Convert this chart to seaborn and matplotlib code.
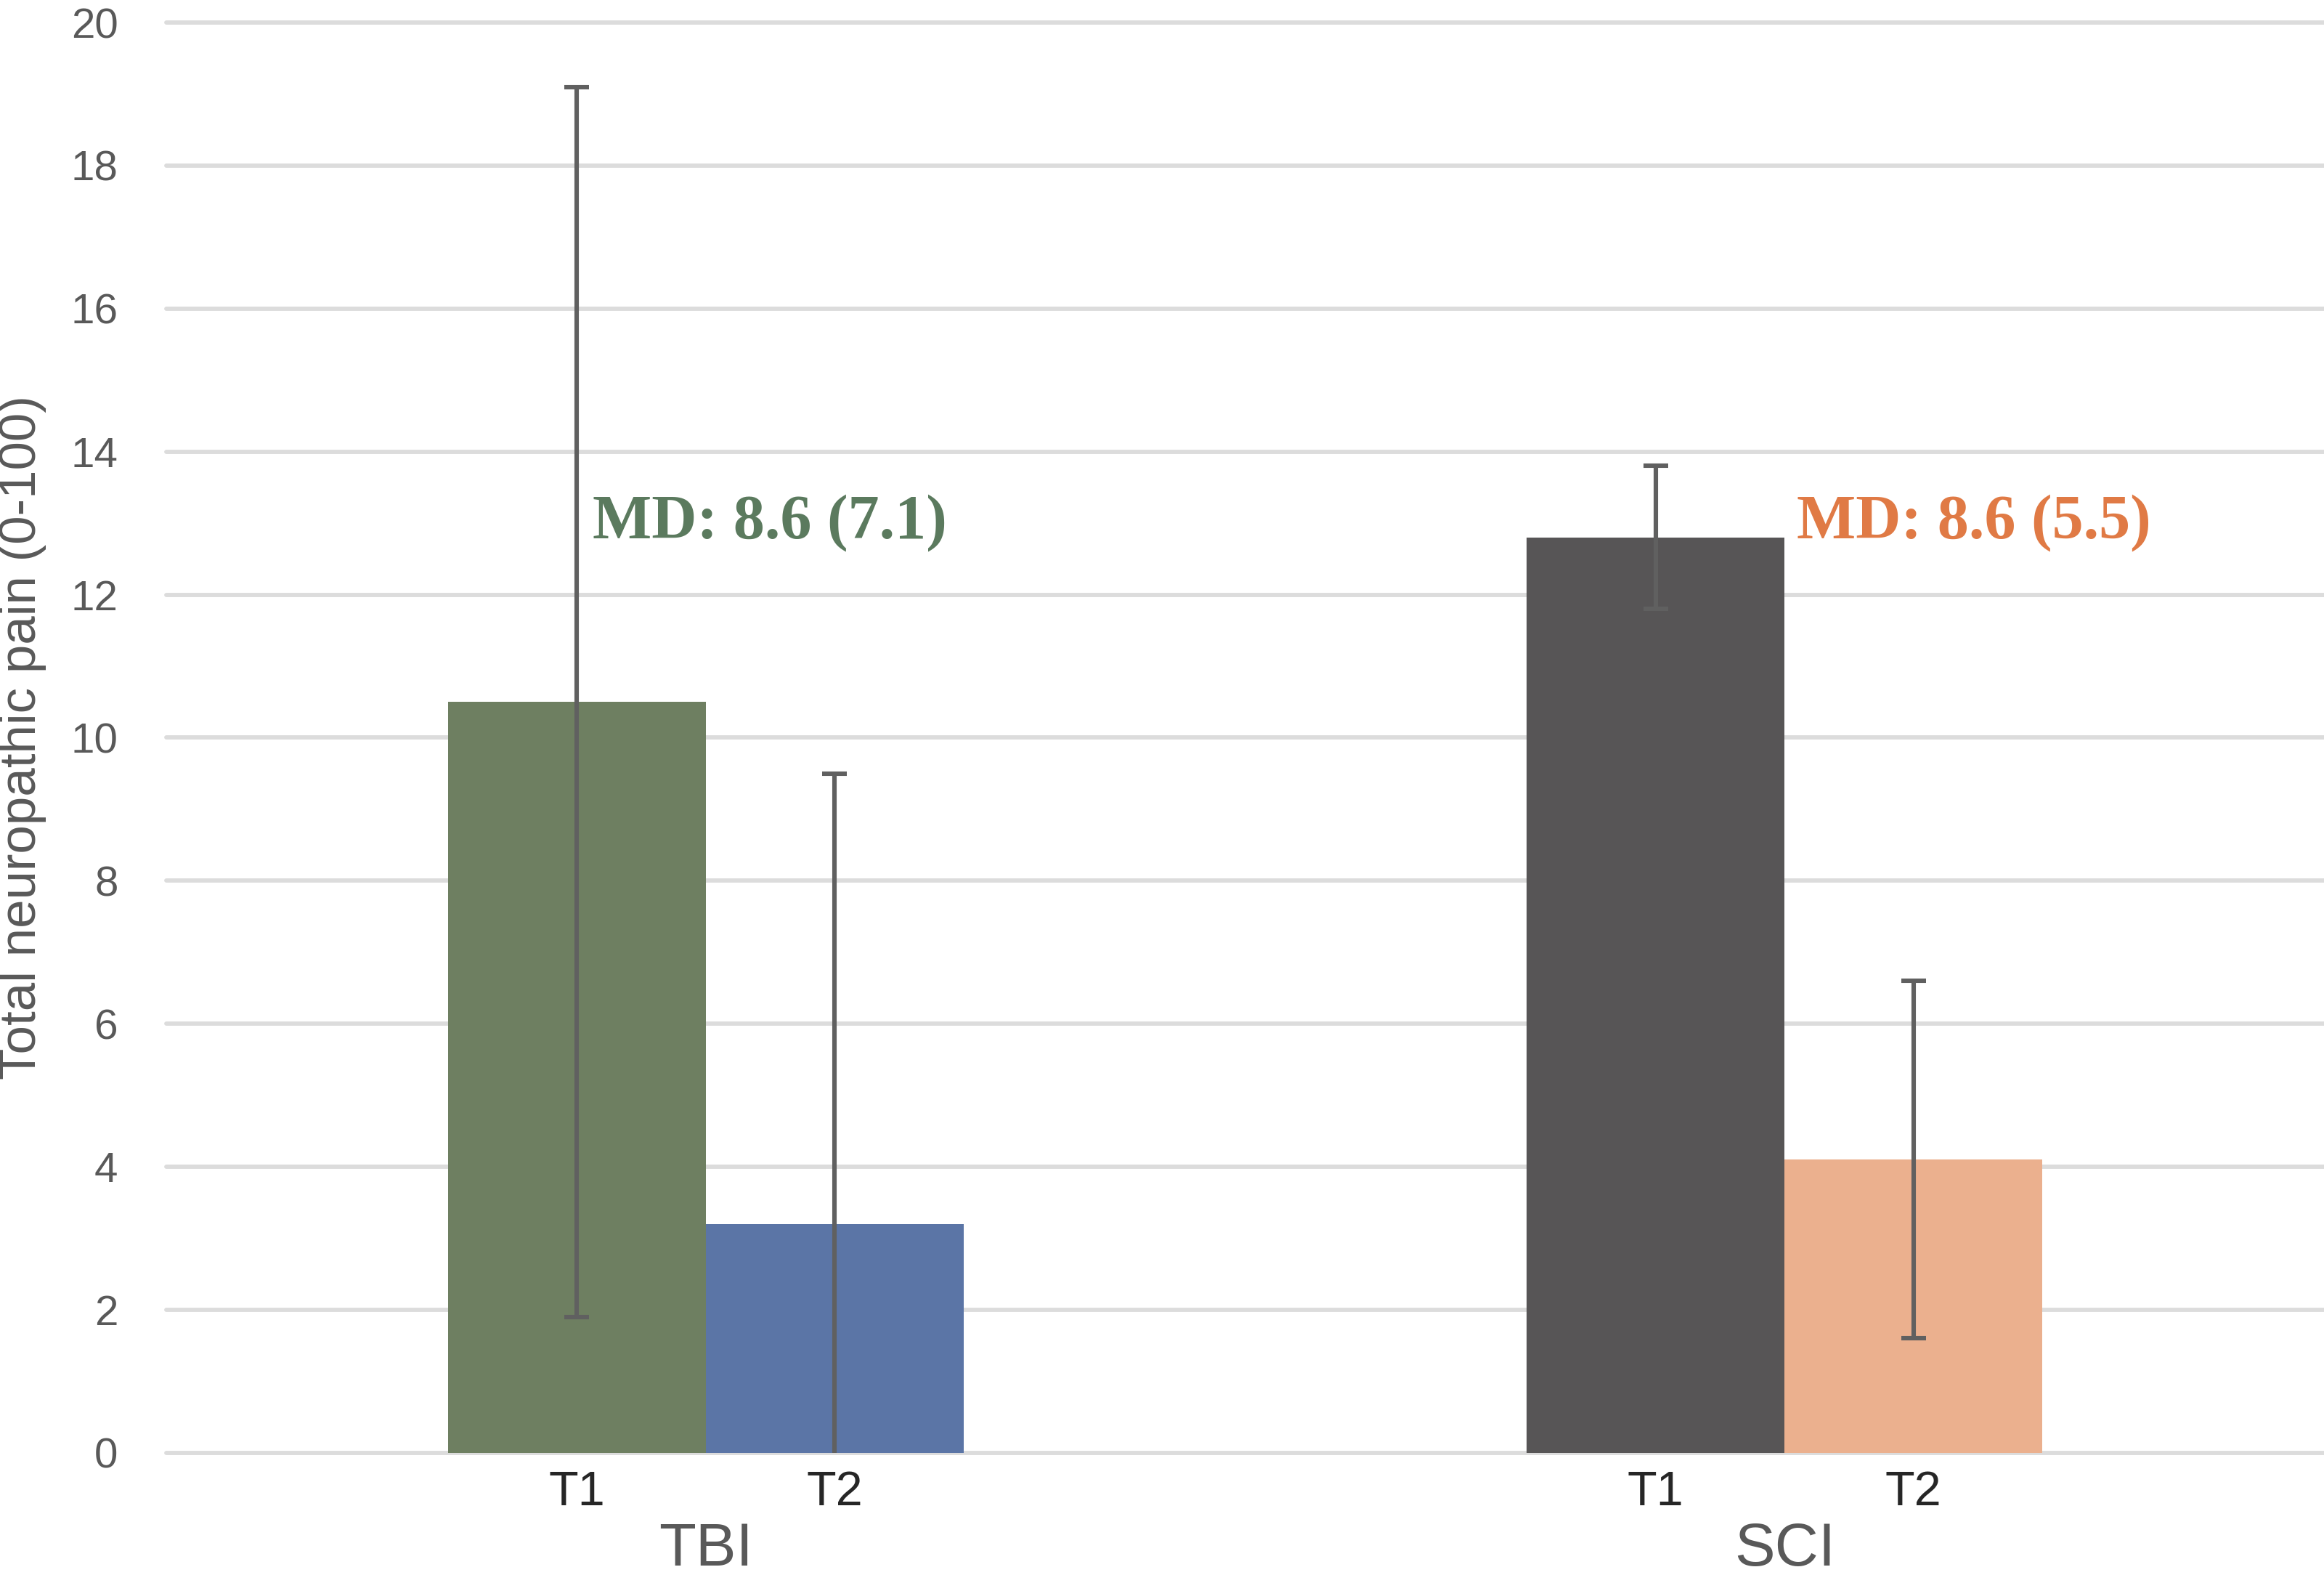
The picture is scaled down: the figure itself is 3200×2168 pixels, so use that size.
import numpy as np
import pandas as pd
import matplotlib.pyplot as plt
import matplotlib.transforms as mtransforms
import seaborn as sns


# mean total neuropathic pain at T1 / T2 for each injury group, with SD error bars
groups = ['TBI', 'TBI', 'SCI', 'SCI']
times = ['T1', 'T2', 'T1', 'T2']
means = [10.5, 3.2, 12.8, 4.1]
errors = [8.6, 6.3, 1.0, 2.5]
bar_colors = ['#6E7F61', '#5B75A6', '#575556', '#EBB08E']

# mean difference annotations
md_labels = ['MD: 8.6 (7.1)', 'MD: 8.6 (5.5)']
md_colors = ['#5B7A5E', '#E07A45']
md_x = [-0.105, 1.011]
md_y = 13.0

y_ticks = list(range(0, 21, 2))

df = pd.DataFrame({'group': groups, 'time': times, 'mean': means, 'err': errors})

sns.set_theme(style='white')
plt.rcParams['font.family'] = ['Liberation Sans', 'DejaVu Sans']

fig = plt.figure(figsize=(16, 10.84), dpi=200)
ax = fig.add_axes([0.0716, 0.0775, 0.9284, 0.9082])

sns.barplot(data=df, x='group', y='mean', hue='time',
            order=['TBI', 'SCI'], hue_order=['T1', 'T2'],
            width=0.478, gap=0, errorbar=None, legend=False,
            saturation=1, ax=ax)

# bars come out grouped by hue, sort them left to right to match the rows
bars = sorted([p for p in ax.patches if p.get_width() > 0], key=lambda p: p.get_x())
trans = mtransforms.blended_transform_factory(ax.transData, ax.transAxes)

for bar, col, err, t in zip(bars, bar_colors, df['err'], df['time']):
    bar.set_facecolor(col)
    bar.set_edgecolor('none')
    cx = bar.get_x() + bar.get_width() / 2
    ax.errorbar(cx, bar.get_height(), yerr=err, fmt='none', ecolor='#606060',
                elinewidth=2.2, capsize=6.1, capthick=2.2, zorder=3)
    ax.text(cx, -0.028, t, transform=trans, ha='center', va='center',
            fontsize=24, color='#262626')

# group labels under the time labels
for pos, lab in zip(ax.get_xticks(), [t.get_text() for t in ax.get_xticklabels()]):
    ax.text(pos, -0.0675, lab, transform=trans, ha='center', va='center',
            fontsize=30, color='#595959')

for x, lab, col in zip(md_x, md_labels, md_colors):
    ax.text(x, md_y, lab, ha='left', va='center', fontsize=31, fontweight='bold',
            color=col, family=['Liberation Serif', 'DejaVu Serif'])

ax.set_xlim(-0.5, 1.5)
ax.set_ylim(0, 20)
ax.set_yticks(y_ticks)
ax.set_xticks([])
ax.set_xlabel('')
ax.set_ylabel('')
ax.tick_params(axis='y', length=0, pad=24, labelsize=21, labelcolor='#595959')

ax.yaxis.grid(True, color='#DCDCDC', linewidth=2.1)
ax.set_axisbelow(True)
for line in ax.get_ygridlines():
    line.set_clip_on(False)
sns.despine(ax=ax, left=True, bottom=True)

ax.text(-0.0666, 0.5, 'Total neuropathic pain (0-100)', transform=ax.transAxes,
        rotation=90, ha='center', va='center', fontsize=25.5, color='#595959')

plt.savefig('out.png', dpi=200)
plt.close()
